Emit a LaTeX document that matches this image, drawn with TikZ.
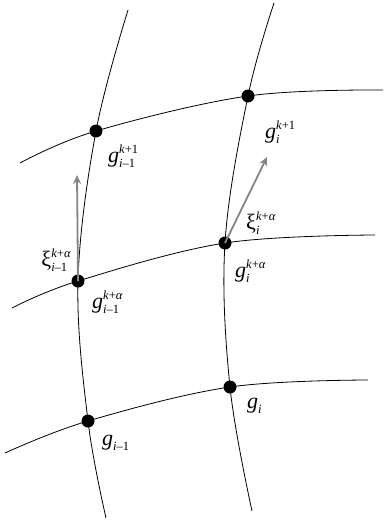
\documentclass[tikz,border=0pt]{standalone}
\usepackage{fontspec}
\setmainfont{Liberation Serif}
\usetikzlibrary{arrows.meta}
\newsavebox{\supbox}
\newsavebox{\subbox}
\newcommand{\sz}{\fontsize{12.5}{13}\selectfont}
\newcommand{\lbl}[3]{#1\sbox{\supbox}{\sz #2}\sbox{\subbox}{\sz #3}%
  \rlap{\raisebox{9pt}{\usebox{\supbox}}}\rlap{\raisebox{-5.5pt}{\usebox{\subbox}}}%
  \ifdim\wd\supbox>\wd\subbox\kern\wd\supbox\else\kern\wd\subbox\fi\null}
\newcommand{\kp}{\textit{k}+1}
\newcommand{\ka}{\textit{k}+\textit{α}}
\newcommand{\im}{\textit{i}–1}
\begin{document}
\begin{tikzpicture}[x=1pt,y=-1pt,
  dot/.style={circle,fill=black,inner sep=0pt,minimum size=13pt},
  curve/.style={line width=0.8pt},
  vec/.style={draw=black!48,line width=1.8pt,-{Stealth[length=9pt,width=8pt]}},
  lab/.style={font=\fontsize{22}{24}\selectfont,inner sep=0pt,anchor=west}]
\useasboundingbox (0,0) rectangle (383,522);
% grid points
\node[dot] (A2) at (96,131) {};
\node[dot] (A1) at (78,281) {};
\node[dot] (A0) at (88,421) {};
\node[dot] (B2) at (248,96) {};
\node[dot] (B1) at (225,243) {};
\node[dot] (B0) at (230,387) {};
% free ends
\coordinate (Lt) at (128,10);  \coordinate (Lb) at (106,518);
\coordinate (Rt) at (274,3);   \coordinate (Rb) at (252,511);
\coordinate (T0) at (20,163);  \coordinate (T1) at (383,90);
\coordinate (M0) at (12,308);  \coordinate (M1) at (375,235);
\coordinate (D0) at (5,453);   \coordinate (D1) at (368,380);
\coordinate (Xa) at (77,175);  \coordinate (Xb) at (267,157);
% curves
\draw[curve] plot[smooth,tension=0.6] coordinates {(Lt) (A2.center) (A1.center) (A0.center) (Lb)};
\draw[curve] plot[smooth,tension=0.6] coordinates {(Rt) (B2.center) (B1.center) (B0.center) (Rb)};
\draw[curve] plot[smooth,tension=0.6] coordinates {(T0) (A2.center) (B2.center) (T1)};
\draw[curve] plot[smooth,tension=0.6] coordinates {(M0) (A1.center) (B1.center) (M1)};
\draw[curve] plot[smooth,tension=0.6] coordinates {(D0) (A0.center) (B0.center) (D1)};
% vectors
\draw[vec] (A1.center) -- (Xa);
\draw[vec] (B1.center) -- (Xb);
% labels
\node[lab] (lA2) at (108,156) {\lbl{\textit{g}}{\kp}{\im}};
\node[lab] (lB2) at (265,132) {\lbl{\textit{g}}{\kp}{\textit{i}}};
\node[lab] (lXb) at (246,223) {\lbl{ξ}{\ka}{\textit{i}}};
\node[lab,anchor=east] (lXa) at (71,260) {\lbl{ξ}{\ka}{\im}};
\node[lab] (lA1) at (92,302) {\lbl{\textit{g}}{\ka}{\im}};
\node[lab] (lB1) at (235,271) {\lbl{\textit{g}}{\ka}{\textit{i}}};
\node[lab] (lB0) at (247,406) {\lbl{\textit{g}}{}{\textit{i}}};
\node[lab] (lA0) at (102,443) {\lbl{\textit{g}}{}{\im}};
\end{tikzpicture}
\end{document}
